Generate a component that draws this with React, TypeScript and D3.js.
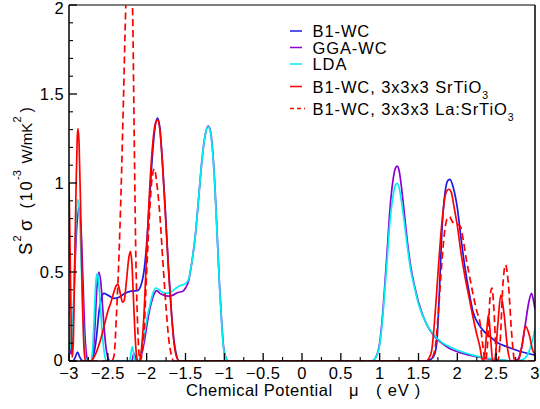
import React from "react";
import * as d3 from "d3";

type Pt = [number, number];

// ---------- data ----------
const b1wc: Pt[] = [
  [-3, 0], [-2.95, 0], [-2.92, 0.02], [-2.89, 0.05], [-2.86, 0.02], [-2.82, 0], [-2.72, 0],
  [-2.68, 0.04], [-2.65, 0.12], [-2.61, 0.29], [-2.58, 0.36], [-2.55, 0.38], [-2.5, 0.37],
  [-2.42, 0.352], [-2.35, 0.36], [-2.28, 0.38], [-2.2, 0.393], [-2.12, 0.395], [-2.07, 0.43],
  [-2.03, 0.52], [-2.0, 0.66], [-1.96, 0.93], [-1.92, 1.19], [-1.89, 1.32], [-1.86, 1.365],
  [-1.83, 1.31], [-1.8, 1.14], [-1.76, 0.85], [-1.72, 0.53], [-1.68, 0.27], [-1.65, 0.12],
  [-1.62, 0.04], [-1.58, 0], [1.6, 0], [1.66, 0.01], [1.7, 0.03], [1.735, 0.1], [1.77, 0.4],
  [1.8, 0.72], [1.84, 0.94], [1.88, 1.015], [1.905, 1.02], [1.95, 0.97], [2.0, 0.86],
  [2.05, 0.68], [2.1, 0.52], [2.15, 0.39], [2.2, 0.28], [2.3, 0.19], [2.42, 0.137],
  [2.53, 0.1], [2.64, 0.08], [2.8, 0.055], [3.0, 0.033],
];

const ggaWc: Pt[] = [
  [-3, 0.2], [-2.985, 0.06], [-2.97, 0.04], [-2.95, 0.18], [-2.93, 0.45], [-2.9, 0.75],
  [-2.87, 0.86], [-2.845, 0.75], [-2.82, 0.45], [-2.795, 0.15], [-2.77, 0.02], [-2.75, 0],
  [-2.71, 0], [-2.69, 0.04], [-2.665, 0.2], [-2.64, 0.42], [-2.615, 0.5], [-2.59, 0.44],
  [-2.56, 0.26], [-2.53, 0.1], [-2.5, 0.02], [-2.47, 0], [-2.19, 0], [-2.175, 0.03],
  [-2.163, 0.043], [-2.15, 0.03], [-2.13, 0], [-2.1, 0], [-2.07, 0.03], [-2.03, 0.11],
  [-1.99, 0.22], [-1.95, 0.31], [-1.91, 0.37], [-1.87, 0.395], [-1.83, 0.38], [-1.78, 0.37],
  [-1.72, 0.365], [-1.66, 0.37], [-1.6, 0.385], [-1.54, 0.39], [-1.5, 0.41], [-1.46, 0.45],
  [-1.42, 0.55], [-1.37, 0.72], [-1.33, 0.92], [-1.29, 1.12], [-1.25, 1.26], [-1.21, 1.32],
  [-1.18, 1.295], [-1.15, 1.18], [-1.12, 0.97], [-1.09, 0.69], [-1.06, 0.41], [-1.03, 0.19],
  [-1.01, 0.08], [-0.98, 0.02], [-0.95, 0], [0.9, 0], [0.95, 0.02], [1.0, 0.1], [1.04, 0.27],
  [1.07, 0.45], [1.1, 0.64], [1.13, 0.84], [1.17, 1.01], [1.2, 1.08], [1.225, 1.095],
  [1.25, 1.07], [1.28, 0.98], [1.32, 0.82], [1.36, 0.66], [1.4, 0.53], [1.45, 0.42],
  [1.5, 0.33], [1.6, 0.21], [1.7, 0.14], [1.8, 0.1], [1.9, 0.07], [2.0, 0.052], [2.2, 0.028],
  [2.4, 0.012], [2.6, 0.003], [2.72, 0], [2.78, 0.01], [2.83, 0.08], [2.88, 0.22],
  [2.92, 0.33], [2.955, 0.38], [2.98, 0.34], [3.0, 0.29],
];

const lda: Pt[] = [
  [-3, 0.35], [-2.985, 0.12], [-2.97, 0.06], [-2.95, 0.2], [-2.93, 0.5], [-2.91, 0.78],
  [-2.885, 0.905], [-2.86, 0.78], [-2.835, 0.45], [-2.81, 0.15], [-2.785, 0.01], [-2.76, 0],
  [-2.72, 0], [-2.7, 0.04], [-2.675, 0.25], [-2.655, 0.44], [-2.64, 0.49], [-2.62, 0.45],
  [-2.595, 0.3], [-2.565, 0.12], [-2.535, 0.02], [-2.515, 0], [-2.22, 0], [-2.2, 0.05],
  [-2.185, 0.08], [-2.17, 0.05], [-2.15, 0], [-2.11, 0], [-2.08, 0.03], [-2.04, 0.12],
  [-2.0, 0.23], [-1.96, 0.31], [-1.92, 0.38], [-1.88, 0.41], [-1.84, 0.4], [-1.79, 0.385],
  [-1.74, 0.38], [-1.68, 0.39], [-1.62, 0.41], [-1.56, 0.425], [-1.5, 0.435], [-1.46, 0.46],
  [-1.42, 0.55], [-1.37, 0.72], [-1.33, 0.92], [-1.29, 1.12], [-1.25, 1.26], [-1.21, 1.315],
  [-1.18, 1.29], [-1.15, 1.17], [-1.12, 0.96], [-1.09, 0.68], [-1.06, 0.4], [-1.03, 0.18],
  [-1.01, 0.07], [-0.98, 0.02], [-0.95, 0], [0.9, 0], [0.95, 0.02], [1.0, 0.09], [1.04, 0.25],
  [1.07, 0.42], [1.1, 0.59], [1.13, 0.77], [1.17, 0.92], [1.2, 0.985], [1.225, 0.998],
  [1.25, 0.975], [1.28, 0.9], [1.32, 0.77], [1.36, 0.63], [1.4, 0.51], [1.45, 0.41],
  [1.5, 0.32], [1.6, 0.21], [1.7, 0.145], [1.8, 0.105], [1.9, 0.08], [2.0, 0.06],
  [2.2, 0.033], [2.4, 0.015], [2.6, 0.004], [2.75, 0], [2.85, 0.01], [2.92, 0.05],
  [2.97, 0.12], [3.0, 0.18],
];

const srtio3: Pt[] = [
  [-3, 1.0], [-2.985, 0.6], [-2.97, 0.15], [-2.96, 0.02], [-2.945, 0.1], [-2.93, 0.45],
  [-2.91, 0.95], [-2.895, 1.24], [-2.885, 1.305], [-2.87, 1.22], [-2.85, 0.85], [-2.83, 0.4],
  [-2.81, 0.1], [-2.79, 0], [-2.72, 0], [-2.68, 0.02], [-2.63, 0.07], [-2.58, 0.14],
  [-2.54, 0.21], [-2.5, 0.28], [-2.46, 0.33], [-2.42, 0.39], [-2.39, 0.425], [-2.37, 0.43],
  [-2.34, 0.38], [-2.31, 0.33], [-2.29, 0.34], [-2.26, 0.45], [-2.23, 0.58], [-2.21, 0.615],
  [-2.19, 0.55], [-2.17, 0.35], [-2.15, 0.15], [-2.13, 0.03], [-2.11, 0], [-2.09, 0],
  [-2.06, 0.1], [-2.03, 0.3], [-2.0, 0.62], [-1.96, 0.98], [-1.92, 1.23], [-1.89, 1.33],
  [-1.86, 1.355], [-1.83, 1.3], [-1.8, 1.13], [-1.76, 0.83], [-1.72, 0.52], [-1.68, 0.26],
  [-1.65, 0.11], [-1.62, 0.03], [-1.58, 0], [1.6, 0], [1.64, 0.02], [1.67, 0.06],
  [1.72, 0.3], [1.76, 0.55], [1.8, 0.77], [1.85, 0.94], [1.89, 0.965], [1.92, 0.95],
  [1.96, 0.86], [2.0, 0.76], [2.05, 0.6], [2.1, 0.47], [2.15, 0.36], [2.2, 0.25],
  [2.25, 0.15], [2.29, 0.08], [2.32, 0.01], [2.34, 0], [2.37, 0.12], [2.4, 0.26],
  [2.43, 0.12], [2.455, 0], [2.48, 0], [2.52, 0.2], [2.56, 0.37], [2.6, 0.27], [2.65, 0.06],
  [2.69, 0], [2.78, 0], [2.83, 0.08], [2.88, 0.195], [2.93, 0.14], [2.97, 0.06], [3.0, 0.04],
];

const laSrtio3: Pt[] = [
  [-3, 0], [-2.45, 0], [-2.42, 0.03], [-2.39, 0.25], [-2.36, 0.55], [-2.33, 0.95],
  [-2.3, 1.45], [-2.27, 1.98], [-2.24, 2.35], [-2.21, 2.3], [-2.18, 1.95], [-2.16, 1.25],
  [-2.14, 0.6], [-2.12, 0.25], [-2.1, 0.05], [-2.085, 0], [-2.06, 0.04], [-2.03, 0.2],
  [-2.0, 0.5], [-1.96, 0.85], [-1.93, 1.03], [-1.9, 1.08], [-1.87, 1.0], [-1.83, 0.82],
  [-1.79, 0.55], [-1.75, 0.3], [-1.72, 0.14], [-1.69, 0.05], [-1.65, 0], [1.65, 0],
  [1.69, 0.03], [1.72, 0.09], [1.76, 0.3], [1.8, 0.55], [1.84, 0.74], [1.87, 0.8],
  [1.9, 0.81], [1.94, 0.78], [1.97, 0.77], [2.01, 0.765], [2.04, 0.755], [2.08, 0.67],
  [2.12, 0.56], [2.16, 0.47], [2.2, 0.38], [2.25, 0.28], [2.29, 0.22], [2.33, 0.08],
  [2.36, 0], [2.39, 0.1], [2.42, 0.35], [2.445, 0.41], [2.47, 0.3], [2.5, 0.04], [2.52, 0],
  [2.55, 0.1], [2.59, 0.45], [2.62, 0.54], [2.66, 0.42], [2.7, 0.15], [2.74, 0], [3.0, 0],
];

const seriesNames = [
  "B1-WC",
  "GGA-WC",
  "LDA",
  "B1-WC, 3x3x3 SrTiO",
  "B1-WC, 3x3x3 La:SrTiO",
];
const seriesSubs = ["", "", "", "3", "3"];
const seriesData = [b1wc, ggaWc, lda, srtio3, laSrtio3];
const seriesColors = ["#1a1ae6", "#8c00d2", "#00f0f0", "#ff0000", "#ff0000"];
const seriesDashed = [false, false, false, false, true];

const xTickValues = [-3, -2.5, -2, -1.5, -1, -0.5, 0, 0.5, 1, 1.5, 2, 2.5, 3];
const xTickLabels = ["-3", "-2.5", "-2", "-1.5", "-1", "-0.5", "0", "0.5", "1", "1.5", "2", "2.5", "3"];
const yTickValues = [0, 0.5, 1, 1.5, 2];
const yTickLabels = ["0", "0.5", "1", "1.5", "2"];

// ---------- layout ----------
const W = 540;
const H = 409;
const L = 69, R = 535, T = 5, B = 361;
const FONT = "'Liberation Sans', Arial, Helvetica, sans-serif";

const x = d3.scaleLinear().domain([-3, 3]).range([L, R]);
const y = d3.scaleLinear().domain([0, 2]).range([B, T]);

const line = d3
  .line<Pt>()
  .x((d) => x(d[0]))
  .y((d) => y(d[1]))
  .curve(d3.curveMonotoneX);

const minus = (s: string) => s.replace("-", "\u2212");

export default function App() {
  const xMinor = d3.range(-3, 3.0001, 0.25).filter((v) => Math.abs(v * 2 - Math.round(v * 2)) > 1e-6);
  const yMinor = d3.range(0, 2.0001, 0.1).filter((v) => Math.abs(v * 2 - Math.round(v * 2)) > 1e-6);

  const legendRowY = [31, 47.5, 64, 86.5, 108.5];

  return (
    <svg
      width={W}
      height={H}
      style={{ position: "absolute", left: 0, top: 0, background: "#fff" }}
      fontFamily={FONT}
    >
      <defs>
        <clipPath id="plotclip">
          <rect x={L} y={T} width={R - L} height={B - T} />
        </clipPath>
      </defs>
      <rect x={0} y={0} width={W} height={H} fill="#fff" />

      {/* curves */}
      <g clipPath="url(#plotclip)">
        {seriesData.map((d, i) => (
          <path
            key={i}
            d={line(d) || ""}
            fill="none"
            stroke={seriesColors[i]}
            strokeWidth={1.7}
            strokeDasharray={seriesDashed[i] ? "7,4" : undefined}
            strokeLinejoin="round"
          />
        ))}
      </g>

      {/* frame */}
      <line x1={L} x2={R} y1={T} y2={T} stroke="#555" strokeWidth={1.5} />
      <line x1={R} x2={R} y1={T} y2={B} stroke="#000" strokeWidth={1.5} />
      <line x1={L} x2={R} y1={B} y2={B} stroke="#000" strokeWidth={1.5} />
      <line x1={L} x2={L} y1={T} y2={B} stroke="#000" strokeWidth={1.5} />

      {/* x ticks */}
      {xTickValues.map((v) => (
        <line key={"xM" + v} x1={x(v)} x2={x(v)} y1={B} y2={B - 8} stroke="#000" strokeWidth={1.3} />
      ))}
      {xMinor.map((v) => (
        <line key={"xm" + v} x1={x(v)} x2={x(v)} y1={B} y2={B - 4} stroke="#000" strokeWidth={1.1} />
      ))}
      {xTickValues.map((v, i) => (
        <text
          key={"xl" + v}
          x={x(v)}
          y={379}
          textAnchor="middle"
          fontSize={16.5}
          letterSpacing={0.4}
          fill="#000"
        >
          {minus(xTickLabels[i])}
        </text>
      ))}

      {/* y ticks */}
      {yTickValues.map((v) => (
        <line key={"yM" + v} x1={L} x2={L + 8} y1={y(v)} y2={y(v)} stroke="#000" strokeWidth={1.3} />
      ))}
      {yMinor.map((v) => (
        <line key={"ym" + v} x1={L} x2={L + 4} y1={y(v)} y2={y(v)} stroke="#000" strokeWidth={1.1} />
      ))}
      {yTickValues.map((v, i) => (
        <text
          key={"yl" + v}
          x={v === 0 ? 63 : 64}
          y={v === 0 ? 366 : Math.max(y(v) + 6, 14)}
          textAnchor="end"
          fontSize={16.5}
          letterSpacing={0.4}
          fill="#000"
        >
          {yTickLabels[i]}
        </text>
      ))}

      {/* x title */}
      <text x={186} y={396} fontSize={16.5} letterSpacing={0.5} fill="#000">
        Chemical Potential
      </text>
      <text x={349} y={396} fontSize={16.5} fill="#000">
        μ
      </text>
      <text x={376} y={396} fontSize={16.5} letterSpacing={0.8} fill="#000">
        ( eV )
      </text>

      {/* y title (rotated) */}
      <g transform="translate(32,0) rotate(-90)" fill="#000">
        <text x={-255} y={0} fontSize={18.5}>S</text>
        <text x={-241.5} y={-11} fontSize={11}>2</text>
        <text x={-231} y={0} fontSize={18.5}>σ</text>
        <text x={-208.5} y={0} fontSize={16} letterSpacing={2}>(10</text>
        <text x={-180} y={-11} fontSize={11}>-3</text>
        <text x={-163.5} y={0} fontSize={15}>W/mK</text>
        <text x={-122.5} y={-11} fontSize={11}>2</text>
        <text x={-112.5} y={0} fontSize={16}>)</text>
      </g>

      {/* legend */}
      {seriesNames.map((name, i) => (
        <g key={"lg" + i}>
          <line
            x1={290}
            x2={seriesDashed[i] ? 305 : 302}
            y1={legendRowY[i]}
            y2={legendRowY[i]}
            stroke={seriesColors[i]}
            strokeWidth={1.5}
            strokeDasharray={seriesDashed[i] ? "4,3" : undefined}
          />
          <text x={312.5} y={legendRowY[i] + 6} fontSize={16.5} letterSpacing={0.9} fill="#000">
            {name}
            {seriesSubs[i] ? (
              <tspan fontSize={10.5} dy={6} letterSpacing={0}>
                {seriesSubs[i]}
              </tspan>
            ) : null}
          </text>
        </g>
      ))}
    </svg>
  );
}
